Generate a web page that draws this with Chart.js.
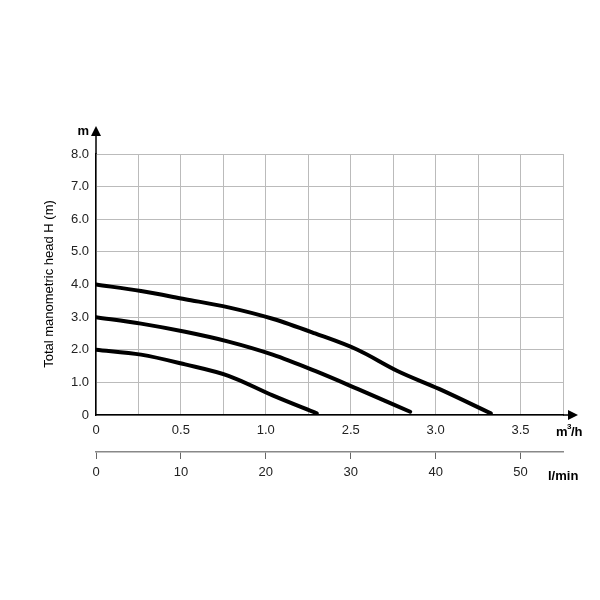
<!DOCTYPE html>
<html><head><script src="https://cdn.jsdelivr.net/npm/chart.js"></script>
<style>body{margin:0;background:#fff}#w{width:600px;height:600px}</style></head>
<body><div id="w"><canvas id="c"></canvas></div>
<script>
const flowLmin = {
  high: [0, 5.3, 10.5, 15.6, 20.8, 25.8, 30.8, 35.5, 40.4, 46.5],
  mid:  [0, 5.3, 10.5, 15.6, 20.8, 25.8, 30.8, 37],
  low:  [0, 5.3, 10.5, 15.6, 20.8, 26]
};
const headHigh = [4.0, 3.8, 3.55, 3.3, 2.95, 2.5, 2.0, 1.35, 0.8, 0.05];
const headMid  = [3.0, 2.8, 2.55, 2.25, 1.85, 1.35, 0.8, 0.1];
const headLow  = [2.0, 1.85, 1.55, 1.2, 0.6, 0.05];
const m3hTickValues = [0, 10, 20, 30, 40, 50];
const m3hTickLabels = ['0', '0.5', '1.0', '2.5', '3.0', '3.5'];
const lminTickLabels = ['0', '10', '20', '30', '40', '50'];
const yTicks = [0,1,2,3,4,5,6,7,8];

const mk = (xs, ys) => xs.map((x,i)=>({x, y: ys[i]}));
const ds = (d) => ({data:d, borderColor:'#000', borderWidth:4, pointRadius:0, cubicInterpolationMode:'monotone', fill:false, borderCapStyle:'round'});
const font = {family:'"Liberation Sans", Arial, sans-serif', size:13};

const deco = {
  id:'deco',
  afterDraw(ch){
    const c = ch.ctx, a = ch.chartArea;
    c.save();
    c.strokeStyle='#000'; c.fillStyle='#000'; c.lineWidth=1.5;
    c.beginPath(); c.moveTo(a.left, a.top); c.lineTo(a.left, 134); c.stroke();
    c.beginPath(); c.moveTo(a.left-5,136); c.lineTo(a.left+5,136); c.lineTo(a.left,126); c.closePath(); c.fill();
    c.beginPath(); c.moveTo(a.right, a.bottom); c.lineTo(570, a.bottom); c.stroke();
    c.beginPath(); c.moveTo(568,a.bottom-5); c.lineTo(568,a.bottom+5); c.lineTo(578,a.bottom); c.closePath(); c.fill();
    c.font = 'bold 13px "Liberation Sans", Arial, sans-serif';
    c.textAlign='right'; c.textBaseline='middle';
    c.fillText('m', a.left-7, 131);
    c.textAlign='left';
    c.fillText('m', 556, 432);
    c.font = 'bold 8px "Liberation Sans", Arial, sans-serif';
    c.fillText('3', 567, 427);
    c.font = 'bold 13px "Liberation Sans", Arial, sans-serif';
    c.fillText('/h', 571, 432);
    c.fillText('l/min', 548, 476);
    c.font = '13px "Liberation Sans", Arial, sans-serif';
    c.translate(49, 284); c.rotate(-Math.PI/2); c.textAlign='center';
    c.fillText('Total manometric head H (m)', 0, 0);
    c.restore();
  }
};

new Chart(document.getElementById('c'), {
  type:'line',
  data:{datasets:[ds(mk(flowLmin.high, headHigh)), ds(mk(flowLmin.mid, headMid)), ds(mk(flowLmin.low, headLow))]},
  options:{
    responsive:true, maintainAspectRatio:false, animation:false,
    layout:{padding:{left:21, right:37, top:154, bottom:112}},
    plugins:{legend:{display:false}, tooltip:{enabled:false}},
    scales:{
      x:{type:'linear', position:'bottom', min:0, max:55,
        afterBuildTicks(s){ s.ticks = Array.from({length:12},(_,i)=>({value:i*5})); },
        afterFit(s){ s.height = 37; },
        grid:{color:'#bbb', lineWidth:1, drawTicks:false},
        border:{color:'#000', width:1.5},
        ticks:{font, color:'#222', padding:8, autoSkip:false, maxRotation:0,
          callback:(v)=>{const i=m3hTickValues.indexOf(v); return i>=0?m3hTickLabels[i]:'';}}},
      x2:{type:'linear', position:'bottom', min:0, max:55,
        afterBuildTicks(s){ s.ticks = m3hTickValues.map(v=>({value:v})); },
        afterFit(s){ s.height = 36; },
        grid:{drawOnChartArea:false, color:'#666', tickLength:7},
        border:{color:'#888', width:1.5},
        ticks:{font, color:'#222', padding:6, autoSkip:false, maxRotation:0,
          callback:(v)=>{const i=m3hTickValues.indexOf(v); return i>=0?lminTickLabels[i]:'';}}},
      y:{min:0, max:8,
        afterBuildTicks(s){ s.ticks = yTicks.map(v=>({value:v})); },
        afterFit(s){ s.width = 75; },
        grid:{color:'#bbb', drawTicks:false},
        border:{color:'#000', width:1.5},
        ticks:{font, color:'#222', padding:7, callback:(v)=> v===0?'0':v.toFixed(1)}}
    }
  },
  plugins:[deco]
});
</script></body></html>
